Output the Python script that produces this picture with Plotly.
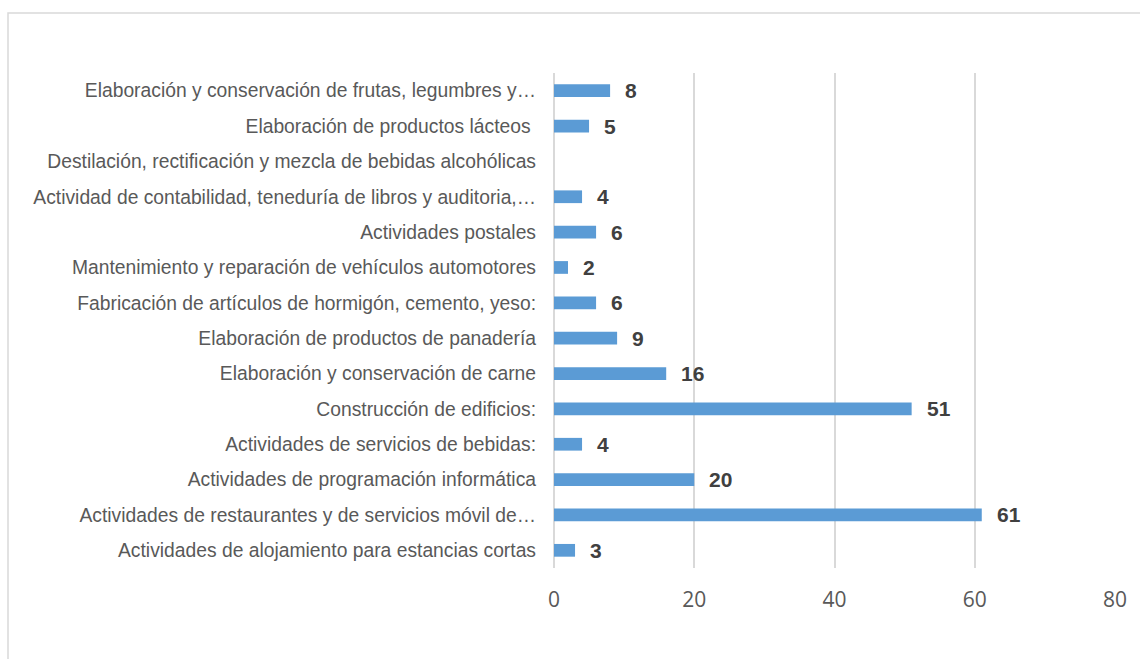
import plotly.graph_objects as go

categories = [
    "Elaboración y conservación de frutas, legumbres y…",
    "Elaboración de productos lácteos ",
    "Destilación, rectificación y mezcla de bebidas alcohólicas",
    "Actividad de contabilidad, teneduría de libros y auditoria,…",
    "Actividades postales",
    "Mantenimiento y reparación de vehículos automotores",
    "Fabricación de artículos de hormigón, cemento, yeso:",
    "Elaboración de productos de panadería",
    "Elaboración y conservación de carne",
    "Construcción de edificios:",
    "Actividades de servicios de bebidas:",
    "Actividades de programación informática",
    "Actividades de restaurantes y de servicios móvil de…",
    "Actividades de alojamiento para estancias cortas",
]
values = [8, 5, None, 4, 6, 2, 6, 9, 16, 51, 4, 20, 61, 3]
x_ticks = [0, 20, 40, 60, 80]

W, H = 1140, 659
ML, MR, MT, MB = 554, 25, 73, 91
pw, ph = W - ML - MR, H - MT - MB

NARROW = "Liberation Sans Narrow, Arial Narrow, Liberation Sans, Arial, sans-serif"

fig = go.Figure()
fig.add_trace(go.Bar(
    x=values, y=categories, orientation="h",
    marker=dict(color="#5b9bd5", line=dict(width=0)),
    width=0.36, hoverinfo="skip",
))

for c, v in zip(categories, values):
    if v is None:
        continue
    fig.add_annotation(
        x=v, y=c, text=str(v), showarrow=False, xanchor="left", yanchor="middle",
        xshift=13, font=dict(family=NARROW, size=21, color="#404040", weight="bold"),
    )

def px_x(p):
    return (p - ML) / pw

def px_y(p):
    return (H - MB - p) / ph

fig.add_shape(type="rect", xref="paper", yref="paper",
              x0=px_x(8), x1=px_x(1150), y0=px_y(670), y1=px_y(13),
              line=dict(color="#d9d9d9", width=1.5), layer="below")

fig.update_layout(
    width=W, height=H,
    margin=dict(l=ML, r=MR, t=MT, b=MB, pad=0, autoexpand=False),
    paper_bgcolor="white", plot_bgcolor="white",
    showlegend=False,
)
fig.update_xaxes(
    range=[0, 80], tickvals=x_ticks, ticktext=[str(t) for t in x_ticks],
    showgrid=True, gridcolor="#d9d9d9", gridwidth=1.5,
    zeroline=True, zerolinecolor="#d9d9d9", zerolinewidth=1.5,
    showline=False, ticks="", ticklabelstandoff=17, automargin=False,
    tickfont=dict(family="Open Sans, Carlito, Calibri, sans-serif", size=21, color="#595959"),
)
fig.update_yaxes(
    autorange="reversed", showgrid=False, zeroline=False, showline=False,
    ticks="", ticklabelstandoff=17, automargin=False,
    tickfont=dict(family=NARROW, size=19.3, color="#595959"),
)

fig.write_html("out.html")
